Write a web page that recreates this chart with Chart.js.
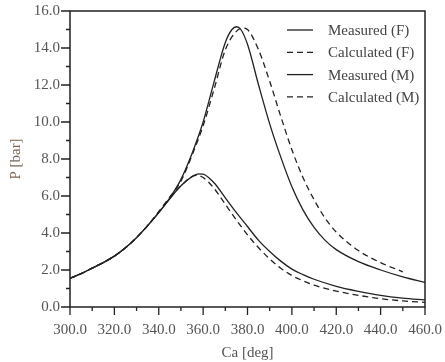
<!DOCTYPE html>
<html><head><meta charset="utf-8">
<script src="https://cdn.jsdelivr.net/npm/chart.js@4.4.1/dist/chart.umd.min.js"></script>
<style>html,body{margin:0;padding:0;background:#fff;}#wrap{width:445px;height:362px;}</style>
</head><body><div id="wrap"><canvas id="c" width="445" height="362"></canvas></div>
<script>
const xTicks = [300,320,340,360,380,400,420,440,460];
const yTicks = [0,2,4,6,8,10,12,14,16];
const seriesLabels = ["Measured (F)","Calculated (F)","Measured (M)","Calculated (M)"];

const measFx = [300,305,310,315,320,325,330,335,340,345,350,355,360,365,370,373,375,377,380,385,390,395,400,405,410,415,420,430,440,450,460];
const measFy = [1.55,1.8,2.1,2.4,2.75,3.2,3.75,4.4,5.1,5.9,6.9,8.3,10.0,12.2,14.3,15.0,15.15,15.0,14.2,12.0,9.9,8.1,6.5,5.25,4.3,3.6,3.1,2.45,2.0,1.63,1.33];
const calcFx = [300,305,310,315,320,325,330,335,340,345,350,355,360,365,370,375,378,380,385,390,395,400,405,410,415,420,430,440,450];
const calcFy = [1.55,1.8,2.1,2.4,2.75,3.2,3.75,4.4,5.15,5.95,6.8,8.2,9.8,11.8,13.9,14.9,15.08,15.0,13.9,12.2,10.3,8.5,7.0,5.8,4.8,4.05,3.05,2.4,1.9];
const measMx = [300,305,310,315,320,325,330,335,340,345,350,355,358,360,365,370,375,380,385,390,395,400,405,410,420,430,440,450,460];
const measMy = [1.55,1.8,2.1,2.4,2.75,3.2,3.75,4.4,5.1,5.85,6.55,7.05,7.2,7.18,6.7,5.9,5.1,4.35,3.6,3.0,2.48,2.05,1.75,1.5,1.12,0.85,0.63,0.48,0.38];
const calcMx = [300,305,310,315,320,325,330,335,340,345,350,355,357,360,365,370,375,380,385,390,395,400,405,410,420,430,440,450,460];
const calcMy = [1.55,1.8,2.1,2.4,2.75,3.2,3.75,4.4,5.15,5.9,6.55,7.05,7.12,7.0,6.4,5.55,4.7,3.9,3.2,2.6,2.1,1.7,1.42,1.18,0.86,0.63,0.45,0.33,0.25];

function pts(xs, ys){ return xs.map((x,i)=>({x:x,y:ys[i]})); }
const ink = '#222';
const serif = '"Liberation Serif","DejaVu Serif",serif';

function mk(label, xs, ys, dashed){
  return {label:label, data:pts(xs,ys), borderColor:ink, borderWidth:1.3, pointRadius:0,
    borderDash: dashed?[6,4]:[], fill:false, cubicInterpolationMode:'monotone'};
}

const frame = {
  id:'frame',
  afterDraw(chart){
    const {ctx, chartArea:a, scales} = chart;
    ctx.save();
    ctx.strokeStyle = ink; ctx.lineWidth = 1.5; ctx.setLineDash([]);
    ctx.strokeRect(a.left, a.top, a.right-a.left, a.bottom-a.top);
    ctx.lineWidth = 1.3;
    ctx.beginPath();
    for (let v=300; v<=460; v+=10){
      const px = scales.x.getPixelForValue(v);
      const len = (v%20===0)?8:4;
      ctx.moveTo(px, a.bottom); ctx.lineTo(px, a.bottom+len);
    }
    for (let v=0; v<=16; v+=1){
      const py = scales.y.getPixelForValue(v);
      const len = (v%2===0)?9:4;
      ctx.moveTo(a.left, py); ctx.lineTo(a.left-len, py);
    }
    ctx.stroke();
    // legend
    ctx.font = '15px '+serif;
    ctx.textBaseline = 'middle';
    chart.data.datasets.forEach((ds,i)=>{
      const y = 30 + i*22.3;
      ctx.strokeStyle = ink; ctx.lineWidth = 1.3;
      ctx.setLineDash(ds.borderDash||[]);
      ctx.beginPath(); ctx.moveTo(287,y); ctx.lineTo(313,y); ctx.stroke();
      ctx.setLineDash([]);
      ctx.fillStyle = '#444';
      ctx.fillText(ds.label, 328, y+1);
    });
    ctx.restore();
  }
};

new Chart(document.getElementById('c'), {
  type:'line',
  data:{datasets:[
    mk(seriesLabels[0], measFx, measFy, false),
    mk(seriesLabels[1], calcFx, calcFy, true),
    mk(seriesLabels[2], measMx, measMy, false),
    mk(seriesLabels[3], calcMx, calcMy, true)
  ]},
  options:{
    responsive:false, animation:false, devicePixelRatio:1,
    layout:{padding:{left:0,top:11,right:20,bottom:0}},
    plugins:{legend:{display:false}, tooltip:{enabled:false}},
    scales:{
      x:{type:'linear', min:300, max:460,
        afterBuildTicks(s){ s.ticks = xTicks.map(v=>({value:v})); },
        afterFit(s){ s.height = 55; },
        grid:{display:true, drawOnChartArea:false, drawTicks:true, tickLength:14, tickColor:'rgba(0,0,0,0)'}, border:{display:false},
        ticks:{padding:0, color:'#555', font:{family:serif, size:15}, maxRotation:0, autoSkip:false,
          callback:(v)=>Number(v).toFixed(1)},
        title:{display:true, text:'Ca [deg]', color:'#555', font:{family:serif, size:15}, padding:{top:0,bottom:0}}
      },
      y:{type:'linear', min:0, max:16,
        afterBuildTicks(s){ s.ticks = yTicks.map(v=>({value:v})); },
        afterFit(s){ s.width = 70; },
        grid:{display:true, drawOnChartArea:false, drawTicks:true, tickLength:10, tickColor:'rgba(0,0,0,0)'}, border:{display:false},
        ticks:{padding:0, color:'#555', font:{family:serif, size:15}, autoSkip:false,
          callback:(v)=>Number(v).toFixed(1)},
        title:{display:true, text:'P [bar]', color:'#7d6650', font:{family:serif, size:15}, padding:{top:7,bottom:4}}
      }
    }
  },
  plugins:[frame]
});
</script></body></html>
